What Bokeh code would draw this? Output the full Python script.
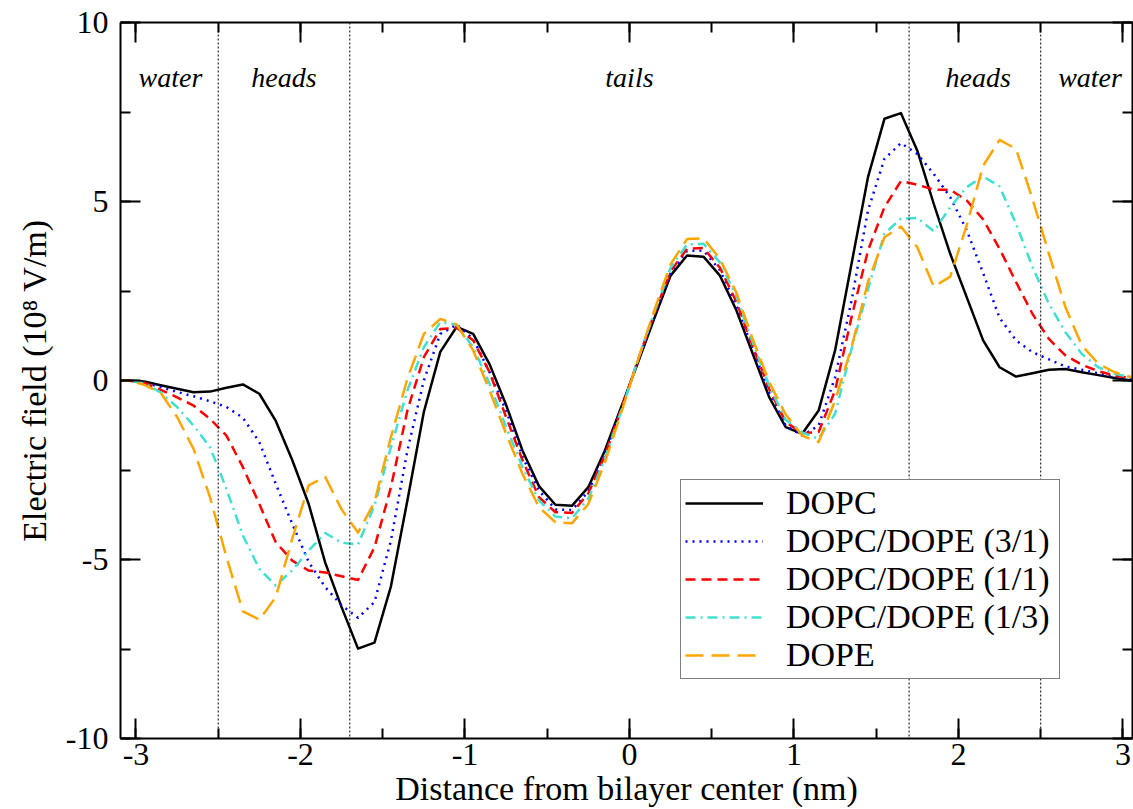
from bokeh.plotting import figure
from bokeh.models import (Range1d, LinearAxis, Legend, LegendItem, Span, Label,
                          FixedTicker, PrintfTickFormatter, ColumnDataSource)
from bokeh.embed import file_html
from bokeh.resources import INLINE

# ---------------- data ----------------
x_nm = [-3.15, -3.05, -2.95, -2.85, -2.75, -2.65, -2.55, -2.45, -2.35, -2.25,
        -2.15, -2.05, -1.95, -1.85, -1.75, -1.65, -1.55, -1.45, -1.35, -1.25,
        -1.15, -1.05, -0.95, -0.85, -0.75, -0.65, -0.55, -0.45, -0.35, -0.25,
        -0.15, -0.05, 0.05, 0.15, 0.25, 0.35, 0.45, 0.55, 0.65, 0.75,
        0.85, 0.95, 1.05, 1.15, 1.25, 1.35, 1.45, 1.55, 1.65, 1.75,
        1.85, 1.95, 2.05, 2.15, 2.25, 2.35, 2.45, 2.55, 2.65, 2.75,
        2.85, 2.95, 3.05, 3.15]

dopc = [0.0, 0.0, -0.03, -0.13, -0.23, -0.33, -0.31, -0.20, -0.11, -0.37,
        -1.13, -2.22, -3.45, -5.08, -6.33, -7.49, -7.32, -5.75, -3.35, -0.88,
        0.80, 1.50, 1.30, 0.45, -0.68, -1.96, -2.95, -3.47, -3.50, -2.98,
        -1.96, -0.74, 0.48, 1.72, 2.93, 3.49, 3.46, 2.93, 1.96, 0.74,
        -0.47, -1.30, -1.49, -0.84, 0.84, 3.26, 5.68, 7.31, 7.47, 6.42,
        4.93, 3.54, 2.33, 1.12, 0.37, 0.11, 0.20, 0.30, 0.32, 0.23,
        0.15, 0.07, 0.00, 0.0]

dopc_dope_31 = [0.0, 0.0, -0.06, -0.18, -0.32, -0.44, -0.58, -0.74, -1.04, -1.72,
                -2.89, -4.0, -5.07, -5.77, -6.28, -6.63, -6.19, -4.47, -1.96, 0.0,
                1.30, 1.56, 1.16, 0.23, -0.84, -2.14, -3.07, -3.60, -3.62, -3.10,
                -2.05, -0.80, 0.52, 1.80, 3.00, 3.62, 3.63, 3.08, 2.10, 0.88,
                -0.35, -1.26, -1.54, -1.26, 0.09, 2.23, 4.75, 6.19, 6.63, 6.33,
                5.77, 5.12, 4.20, 3.00, 1.75, 1.12, 0.79, 0.59, 0.39, 0.30,
                0.20, 0.11, 0.06, 0.0]

dopc_dope_11 = [0.0, 0.0, -0.06, -0.26, -0.47, -0.70, -1.07, -1.54, -2.42, -3.45,
                -4.52, -5.03, -5.31, -5.36, -5.47, -5.57, -4.66, -2.98, -0.84, 0.65,
                1.44, 1.47, 1.12, 0.23, -1.02, -2.23, -3.26, -3.68, -3.70, -3.15,
                -2.10, -0.80, 0.55, 1.85, 3.05, 3.68, 3.70, 3.15, 2.20, 0.95,
                -0.25, -1.16, -1.47, -1.44, -0.28, 1.77, 3.63, 4.84, 5.57, 5.47,
                5.33, 5.33, 5.03, 4.50, 3.68, 2.75, 1.86, 1.16, 0.70, 0.44,
                0.26, 0.14, 0.07, 0.0]

dopc_dope_13 = [0.0, 0.0, -0.08, -0.33, -0.74, -1.26, -1.86, -3.03, -4.33, -5.26,
                -5.73, -5.30, -4.75, -4.26, -4.53, -4.58, -3.49, -1.86, -0.28, 0.93,
                1.63, 1.56, 0.93, -0.09, -1.30, -2.42, -3.35, -3.80, -3.85, -3.30,
                -2.20, -0.85, 0.55, 1.90, 3.15, 3.80, 3.82, 3.30, 2.35, 1.05,
                -0.15, -1.10, -1.45, -1.63, -0.93, 0.88, 2.55, 4.10, 4.52, 4.54,
                4.17, 4.84, 5.40, 5.70, 5.42, 4.38, 3.17, 2.14, 1.35, 0.74,
                0.37, 0.19, 0.09, 0.0]

dope = [0.0, 0.0, -0.12, -0.34, -1.02, -1.91, -3.26, -4.93, -6.45, -6.68,
        -6.05, -4.42, -2.93, -2.69, -3.60, -4.25, -3.40, -1.58, 0.05, 1.30,
        1.72, 1.56, 0.84, -0.28, -1.49, -2.61, -3.54, -3.96, -3.99, -3.45,
        -2.30, -0.90, 0.55, 1.95, 3.25, 3.95, 3.97, 3.40, 2.45, 1.15,
        -0.05, -0.95, -1.54, -1.72, -0.56, 0.93, 2.75, 4.00, 4.30, 3.72,
        2.62, 2.90, 4.33, 6.00, 6.72, 6.47, 5.07, 3.54, 2.05, 0.98,
        0.47, 0.23, 0.09, 0.0]

series_names = ["DOPC", "DOPC/DOPE (3/1)", "DOPC/DOPE (1/1)", "DOPC/DOPE (1/3)", "DOPE"]
series_values = [dopc, dopc_dope_31, dopc_dope_11, dopc_dope_13, dope]

x_ticks = [-3, -2, -1, 0, 1, 2, 3]
x_minor_ticks = [-3, -2.5, -2, -1.5, -1, -0.5, 0, 0.5, 1, 1.5, 2, 2.5, 3]
y_ticks = [-10, -5, 0, 5, 10]
y_minor_ticks = [-10, -7.5, -5, -2.5, 0, 2.5, 5, 7.5, 10]

x_title = "Distance from bilayer center (nm)"
y_title = "Electric field (10\u2078 V/m)"

region_bounds = [-2.5, -1.7, 1.7, 2.5]
region_names = ["water", "heads", "tails", "heads", "water"]
region_x = [-2.79, -2.10, 0.0, 2.12, 2.80]
region_y = 8.46

# ---------------- styles ----------------
colors = ["black", "#0000ff", "#ff0000", "#40e0d0", "#ffa500"]
dashes = ["solid", "2 5", "10 6", "10 5 2 5", "18 8"]

SERIF = "Liberation Serif"

p = figure(width=1133, height=809,
           x_range=Range1d(-3.094, 3.058), y_range=Range1d(-10, 10),
           output_backend="svg", toolbar_location=None,
           x_axis_type=None, y_axis_type=None,
           min_border_left=120, min_border_right=1,
           min_border_top=22, min_border_bottom=71)
p.outline_line_color = None
p.background_fill_color = "white"
p.border_fill_color = "white"


def style_axis(ax):
    ax.axis_line_color = "black"
    ax.axis_line_width = 2
    ax.major_tick_in = 20
    ax.major_tick_out = 0
    ax.minor_tick_in = 10
    ax.minor_tick_out = 0
    ax.major_tick_line_color = "black"
    ax.minor_tick_line_color = "black"
    ax.major_tick_line_width = 2
    ax.minor_tick_line_width = 2
    ax.major_label_text_font = SERIF
    ax.major_label_text_color = "black"
    ax.axis_label_text_font = SERIF
    ax.axis_label_text_font_style = "normal"
    ax.axis_label_text_color = "black"


def hide_labels(ax):
    ax.major_label_text_font_size = "1px"
    ax.major_label_text_color = None
    ax.major_label_standoff = 0
    ax.axis_label_standoff = 0


xb = LinearAxis(ticker=FixedTicker(ticks=x_ticks, minor_ticks=x_minor_ticks),
                formatter=PrintfTickFormatter(format="%d"))
style_axis(xb)
xb.major_label_text_font_size = "32px"
xb.major_label_standoff = 5
xb.axis_label = x_title
xb.axis_label_text_font_size = "34px"
xb.axis_label_standoff = 2
p.add_layout(xb, "below")

yl = LinearAxis(ticker=FixedTicker(ticks=y_ticks, minor_ticks=y_minor_ticks),
                formatter=PrintfTickFormatter(format="%d"))
style_axis(yl)
yl.major_label_text_font_size = "32px"
yl.major_label_standoff = 12
yl.axis_label = y_title
yl.axis_label_text_font_size = "34px"
yl.axis_label_standoff = 10
p.add_layout(yl, "left")

xt = LinearAxis(ticker=FixedTicker(ticks=x_ticks, minor_ticks=x_minor_ticks))
style_axis(xt)
hide_labels(xt)
p.add_layout(xt, "above")

yr = LinearAxis(ticker=FixedTicker(ticks=y_ticks, minor_ticks=y_minor_ticks))
style_axis(yr)
hide_labels(yr)
p.add_layout(yr, "right")

for b in region_bounds:
    p.add_layout(Span(location=b, dimension="height", line_color="black",
                      line_width=1, line_dash="2 2"))

for name, xc in zip(region_names, region_x):
    p.add_layout(Label(x=xc, y=region_y, text=name, text_align="center",
                       text_baseline="middle", text_font=SERIF,
                       text_font_style="italic", text_font_size="28px",
                       text_color="black"))

items = []
for name, vals, c, d in zip(series_names, series_values, colors, dashes):
    src = ColumnDataSource(data=dict(x=x_nm, y=vals))
    r = p.line("x", "y", source=src, line_color=c, line_width=2.5,
               line_dash=d, line_join="round")
    items.append(LegendItem(label=name, renderers=[r]))

legend = Legend(items=items, location=(560, 59))
legend.label_text_font = SERIF
legend.label_text_font_size = "34px"
legend.label_text_color = "black"
legend.glyph_width = 78
legend.glyph_height = 38
legend.label_height = 38
legend.label_width = 269
legend.label_standoff = 23
legend.padding = 4
legend.spacing = 0
legend.margin = 0
legend.border_line_color = "black"
legend.border_line_width = 1.5
legend.background_fill_color = "white"
legend.background_fill_alpha = 1.0
p.add_layout(legend, "center")

open("out.html", "w").write(file_html(p, INLINE))
